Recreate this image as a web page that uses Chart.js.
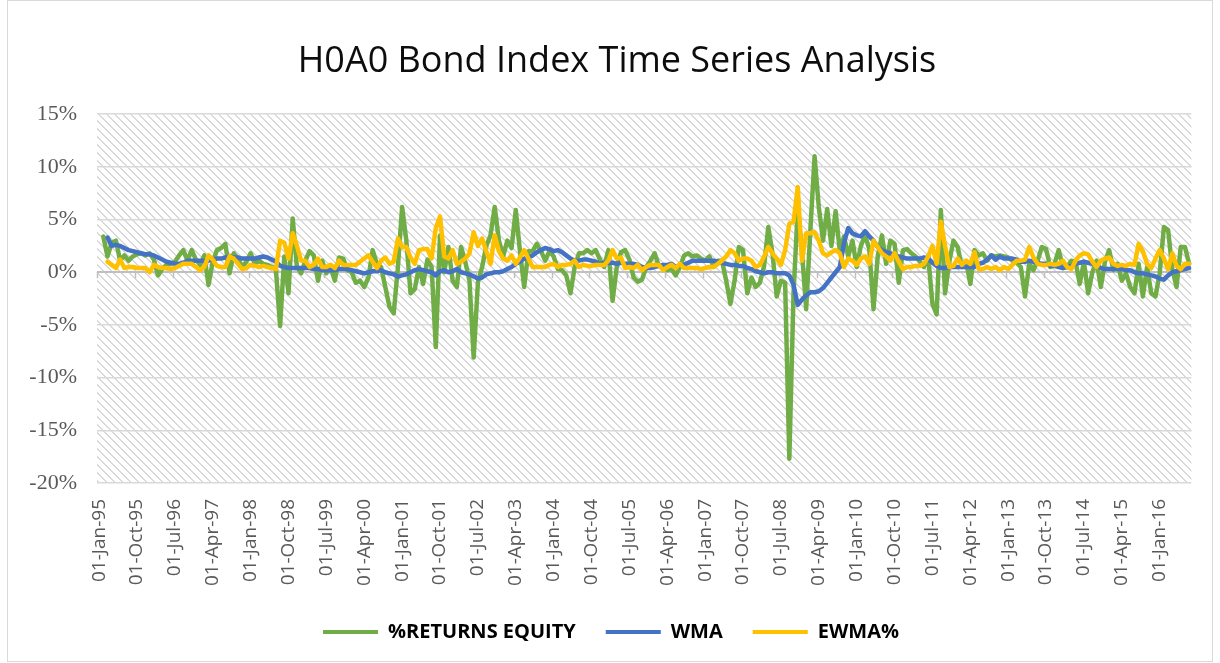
<!DOCTYPE html>
<html>
<head>
<meta charset="utf-8">
<script src="https://cdn.jsdelivr.net/npm/chart.js@4"></script>
<style>
  html, body { margin: 0; padding: 0; background: #fff; }
  #wrap { width: 1220px; height: 663px; }
</style>
</head>
<body>
<div id="wrap"><canvas id="bondChart" width="1220" height="663"></canvas></div>
<script>
// monthly categories, Jan-95 .. Aug-16
const monthNames = ['Jan','Feb','Mar','Apr','May','Jun','Jul','Aug','Sep','Oct','Nov','Dec'];
const monthCount = 260;
const labels = [];
for (let i = 0; i < monthCount; i++) {
    const yr = String((95 + Math.floor(i / 12)) % 100).padStart(2, '0');
    labels.push('01-' + monthNames[i % 12] + '-' + yr);
}

// values, in %
const returnsEquity = [
    null, 3.4, 1.5, 2.8, 3.0, 1.1, 1.6, 1.1, 1.5, 1.7,
    1.8, 1.6, 1.8, 1.2, -0.3, 0.3, 0.7, 0.8, 1.0, 1.6,
    2.1, 1.1, 2.1, 1.2, 0.7, 1.6, -1.2, 1.0, 2.1, 2.3,
    2.7, -0.1, 1.8, 1.3, 0.5, 1.0, 1.8, 0.8, 1.1, 0.8,
    0.7, 0.5, 0.3, -5.1, 1.5, -2.0, 5.1, 0.5, -0.1, 1.1,
    2.0, 1.6, -0.8, 1.1, -0.1, 0.5, -0.8, 1.4, 1.3, 0.2,
    0.0, -1.0, -0.8, -1.4, -0.5, 2.1, 0.8, 0.5, -1.4, -3.3,
    -3.9, 0.5, 6.2, 3.0, -2.0, -1.6, 0.5, -1.1, 1.2, 0.5,
    -7.1, 3.5, 0.0, 2.4, -0.8, -1.4, 2.4, 1.0, -0.8, -8.1,
    -1.0, 0.5, 2.5, 3.5, 6.2, 3.0, 1.5, 3.0, 2.3, 5.9,
    2.0, -1.4, 2.0, 2.0, 2.7, 2.0, 1.1, 2.0, 1.5, 0.3,
    0.2, -0.3, -2.0, 0.5, 1.8, 1.8, 2.1, 1.8, 2.1, 1.2,
    0.5, 2.1, -2.7, 0.5, 1.9, 2.1, 1.2, -0.5, -0.9, -0.7,
    0.5, 1.1, 1.8, 0.6, 0.6, 0.2, 0.3, -0.3, 0.5, 1.6,
    1.8, 1.5, 1.6, 1.3, 1.1, 1.5, 0.5, 1.1, 1.1, -0.8,
    -3.0, -0.8, 2.4, 2.1, -2.0, -0.5, -1.4, -1.0, 0.6, 4.3,
    1.8, -2.3, -0.8, -1.0, -17.7, -2.0, 6.0, 2.0, -3.5, 4.0,
    11.0, 6.2, 3.0, 6.0, 2.5, 5.8, 2.0, 3.4, 1.5, 3.0,
    0.5, 2.5, 3.5, 2.2, -3.5, 1.5, 3.5, 0.8, 3.0, 2.7,
    -1.0, 2.1, 2.2, 1.8, 1.5, 1.0, 0.5, 1.5, -3.0, -4.0,
    5.9, -2.0, 1.0, 3.0, 2.4, 0.5, 1.0, -1.1, 2.1, 1.6,
    1.8, 1.1, 1.6, 1.5, 1.6, 1.5, 1.4, 1.1, 0.9, 0.5,
    -2.3, 0.8, 0.2, 1.1, 2.4, 2.2, 0.5, 0.8, 2.1, 0.5,
    0.5, 1.1, 1.0, -1.1, 1.0, -2.0, 0.0, 1.1, -1.4, 1.0,
    2.1, 0.2, 0.8, -0.8, -0.1, -1.4, -2.0, 0.8, -2.3, 0.5,
    -2.0, -2.3, -0.1, 4.3, 4.0, 0.3, -1.4, 2.4, 2.4, 0.8
];

const wma = [
    null, null, 3.3, 2.5, 2.6, 2.5, 2.3, 2.1, 2.0, 1.9,
    1.8, 1.7, 1.7, 1.6, 1.4, 1.2, 1.0, 0.9, 0.8, 0.8,
    0.9, 1.1, 1.1, 1.1, 1.1, 1.1, 1.1, 1.2, 1.3, 1.3,
    1.4, 1.5, 1.4, 1.4, 1.3, 1.3, 1.3, 1.3, 1.4, 1.5,
    1.4, 1.2, 1.0, 0.6, 0.5, 0.4, 0.4, 0.4, 0.4, 0.4,
    0.4, 0.3, 0.3, 0.2, 0.2, 0.2, 0.2, 0.3, 0.3, 0.3,
    0.2, 0.1, 0.0, -0.1, 0.0, 0.1, 0.1, 0.2, 0.0, -0.1,
    -0.2, -0.4, -0.3, -0.2, 0.0, 0.2, 0.3, 0.2, 0.1, 0.0,
    -0.3, 0.1, 0.2, 0.0, 0.1, 0.3, 0.0, -0.1, -0.2, -0.4,
    -0.6, -0.5, -0.2, -0.1, 0.0, 0.0, 0.1, 0.3, 0.5, 0.8,
    1.0, 1.3, 1.4, 1.6, 1.9, 2.1, 2.3, 2.2, 2.0, 2.1,
    1.9, 1.6, 1.3, 1.1, 1.1, 1.2, 1.2, 1.1, 1.0, 0.8,
    0.9, 0.9, 0.9, 0.8, 0.9, 0.8, 0.8, 0.8, 0.7, 0.5,
    0.4, 0.4, 0.5, 0.6, 0.7, 0.7, 0.8, 0.5, 0.6, 0.7,
    0.9, 1.1, 1.1, 1.1, 1.1, 1.1, 1.1, 1.0, 0.9, 0.8,
    0.7, 0.7, 0.6, 0.6, 0.4, 0.3, 0.1, 0.0, -0.1, 0.0,
    0.0, -0.1, -0.1, -0.1, -0.3, -1.2, -3.1, -2.6, -2.2, -1.9,
    -1.9, -1.8, -1.5, -1.0, -0.5, 0.0, 0.5, 2.8, 4.2, 3.7,
    3.5, 3.4, 3.9, 3.4, 3.0, 2.4, 2.1, 1.9, 1.8, 1.6,
    1.5, 1.4, 1.3, 1.3, 1.3, 1.3, 1.4, 1.3, 0.9, 0.6,
    0.4, 0.4, 0.5, 0.5, 0.5, 0.5, 0.5, 0.5, 0.5, 0.8,
    0.9, 1.2, 1.6, 1.2, 1.5, 1.3, 1.3, 1.3, 1.2, 1.0,
    1.0, 1.1, 1.0, 0.9, 0.8, 0.8, 0.6, 0.6, 0.5, 0.4,
    0.5, 0.6, 0.8, 0.9, 1.0, 0.9, 0.8, 0.7, 0.4, 0.3,
    0.3, 0.3, 0.3, 0.3, 0.2, 0.2, 0.0, -0.1, -0.1, -0.2,
    -0.3, -0.4, -0.6, -0.7, -0.3, 0.0, 0.1, 0.2, 0.3, 0.4
];

const ewma = [
    null, null, 1.0, 0.7, 0.4, 1.2, 0.4, 0.5, 0.5, 0.4,
    0.4, 0.4, 0.0, 0.7, 0.5, 0.4, 0.4, 0.3, 0.4, 0.6,
    0.8, 0.8, 0.8, 0.5, 0.2, 0.5, 1.6, 1.2, 0.6, 0.5,
    0.5, 1.5, 1.3, 0.8, 0.3, 0.4, 0.7, 0.6, 0.5, 0.6,
    0.5, 0.4, 0.3, 3.0, 2.8, 1.3, 3.7, 2.5, 1.1, 1.1,
    0.5, 0.7, 1.3, 0.5, 0.5, 0.7, 0.4, 1.1, 0.7, 0.7,
    0.7, 0.7, 1.0, 1.3, 1.6, 1.0, 0.4, 1.1, 1.4, 0.8,
    1.0, 3.2, 2.4, 2.4, 1.4, 0.8, 2.1, 2.2, 2.2, 1.3,
    4.2, 5.3, 1.5, 1.3, 2.1, 0.8, 1.0, 1.3, 1.8, 3.8,
    2.5, 3.2, 2.0, 0.8, 3.5, 2.0, 1.3, 1.1, 1.6, 0.8,
    1.4, 2.1, 1.3, 0.5, 0.5, 0.5, 0.5, 0.7, 0.8, 0.5,
    0.7, 0.7, 0.8, 1.1, 0.5, 0.7, 0.6, 0.6, 0.7, 0.7,
    0.7, 1.1, 2.1, 1.3, 1.4, 0.4, 0.5, 0.4, 0.7, 0.2,
    0.5, 0.7, 0.7, 0.7, 0.2, 0.5, 0.7, 0.4, 0.8, 0.4,
    0.4, 0.4, 0.4, 0.3, 0.4, 0.5, 0.5, 0.8, 1.1, 1.5,
    2.1, 1.8, 1.1, 1.3, 1.3, 1.1, 0.5, 0.7, 1.5, 2.4,
    1.8, 1.3, 0.7, 2.1, 4.6, 4.8, 8.1, 1.1, 3.7, 3.7,
    3.8, 3.0, 1.8, 1.6, 1.9, 2.1, 1.8, 0.5, 1.3, 1.1,
    0.7, 1.3, 1.5, 0.8, 3.0, 2.4, 1.8, 1.5, 1.1, 1.8,
    1.0, 0.3, 0.5, 0.5, 0.6, 0.6, 0.8, 1.5, 2.5, 0.8,
    4.8, 2.5, 0.5, 0.6, 1.3, 0.7, 1.1, 0.8, 1.9, 0.3,
    0.3, 0.5, 0.3, 0.5, 0.2, 0.5, 0.3, 0.7, 1.1, 1.1,
    1.2, 2.4, 1.4, 0.8, 0.7, 0.7, 0.8, 0.7, 0.8, 1.1,
    0.5, 0.3, 1.1, 1.6, 1.8, 1.7, 1.0, 0.5, 1.1, 1.3,
    1.4, 0.8, 0.6, 0.7, 0.6, 0.8, 0.7, 2.7, 2.0, 0.8,
    0.4, 1.3, 2.1, 1.3, 0.3, 1.8, 0.6, 0.3, 0.8, 0.8
];

const labelStep = 9;  // one date label every 9 months

// diagonal hatch for the plot area
function makeHatch() {
    const c = document.createElement('canvas');
    c.width = 8; c.height = 8;
    const g = c.getContext('2d');
    const img = g.createImageData(8, 8);
    for (let j = 0; j < 8; j++) {
        for (let i = 0; i < 8; i++) {
            const on = ((i - j + 16) % 8) < 2;
            const v = on ? 217 : 255;
            const k = (j * 8 + i) * 4;
            img.data[k] = v; img.data[k + 1] = v; img.data[k + 2] = v; img.data[k + 3] = 255;
        }
    }
    g.putImageData(img, 0, 0);
    return c;
}

const backdrop = {
    id: 'backdrop',
    afterLayout(chart) {
        // Excel centres title and legend a bit right of the canvas centre
        if (chart.titleBlock) chart.titleBlock.left += 38;
        if (chart.legend) chart.legend.left += 26;
    },
    beforeDraw(chart) {
        const ctx = chart.ctx;
        const a = chart.chartArea;
        ctx.save();
        ctx.fillStyle = '#ffffff';
        ctx.fillRect(0, 0, chart.width, chart.height);
        ctx.fillStyle = ctx.createPattern(makeHatch(), 'repeat');
        ctx.fillRect(a.left, a.top, a.right - a.left, a.bottom - a.top);
        ctx.strokeStyle = '#d9d9d9';
        ctx.lineWidth = 1;
        ctx.strokeRect(7.5, 0.5, chart.width - 15, chart.height - 2);
        ctx.restore();
    },
    beforeDatasetsDraw(chart) {
        // small tick marks hanging from the 0% axis
        const ctx = chart.ctx;
        const xs = chart.scales.x;
        const y0 = chart.scales.y.getPixelForValue(0);
        const step = xs.getPixelForValue(1) - xs.getPixelForValue(0);
        ctx.save();
        ctx.strokeStyle = '#bfbfbf';
        ctx.lineWidth = 1.5;
        ctx.beginPath();
        for (let i = 0; i <= labels.length; i += labelStep) {
            const px = Math.round(xs.getPixelForValue(i) - step / 2) + 0.5;
            ctx.moveTo(px, y0);
            ctx.lineTo(px, y0 + 6);
        }
        ctx.stroke();
        ctx.restore();
    }
};

const ctx = document.getElementById('bondChart').getContext('2d');
const defaultLabels = Chart.defaults.plugins.legend.labels.generateLabels;

const bondChart = new Chart(ctx, {
    type: 'line',
    data: {
        labels: labels,
        datasets: [
            { label: '%RETURNS EQUITY', data: returnsEquity, borderColor: '#70ad47', backgroundColor: '#70ad47', order: 3 },
            { label: 'WMA', data: wma, borderColor: '#4472c4', backgroundColor: '#4472c4', order: 2 },
            { label: 'EWMA%', data: ewma, borderColor: '#ffc000', backgroundColor: '#ffc000', order: 1 }
        ]
    },
    options: {
        responsive: false,
        devicePixelRatio: 1,
        animation: false,
        layout: { padding: { left: 0, right: 24, top: 0, bottom: 11 } },
        elements: {
            point: { radius: 0, hoverRadius: 0 },
            line: { borderWidth: 4.5, tension: 0, borderJoinStyle: 'round', borderCapStyle: 'round' }
        },
        plugins: {
            title: {
                display: true,
                text: 'H0A0 Bond Index Time Series Analysis',
                color: '#0d0d0d',
                font: { family: 'Open Sans', size: 36, weight: 'normal' },
                padding: { top: 40, bottom: 31 }
            },
            legend: {
                position: 'bottom',
                labels: {
                    font: { family: 'Open Sans', size: 20, weight: 'bold' },
                    color: '#000000',
                    boxWidth: 55,
                    boxHeight: 4,
                    padding: 30,
                    sort: (a, b) => a.datasetIndex - b.datasetIndex,
                    generateLabels: chart => defaultLabels(chart).map(l => Object.assign(l, { lineWidth: 0, fillStyle: l.strokeStyle }))
                }
            },
            tooltip: { enabled: false }
        },
        scales: {
            x: {
                offset: true,
                grid: { display: false },
                border: { display: false },
                ticks: {
                    autoSkip: false,
                    minRotation: 90,
                    maxRotation: 90,
                    padding: 8,
                    color: '#595959',
                    font: { family: 'Open Sans', size: 19 },
                    callback: function (val, i) { return i % labelStep === 0 ? labels[i] : ''; }
                },
                afterFit: s => { s.height = 109; }
            },
            y: {
                min: -20,
                max: 15,
                border: { display: false },
                grid: {
                    color: c => c.tick.value === 0 ? '#bfbfbf' : '#d9d9d9',
                    lineWidth: c => c.tick.value === 0 ? 2 : 1.5,
                    drawTicks: false
                },
                ticks: {
                    stepSize: 5,
                    padding: 20,
                    color: '#595959',
                    font: { family: 'Liberation Serif', size: 22 },
                    callback: v => v + '%'
                },
                afterFit: s => { s.width = 97; }
            }
        }
    },
    plugins: [backdrop]
});
</script>
</body>
</html>
